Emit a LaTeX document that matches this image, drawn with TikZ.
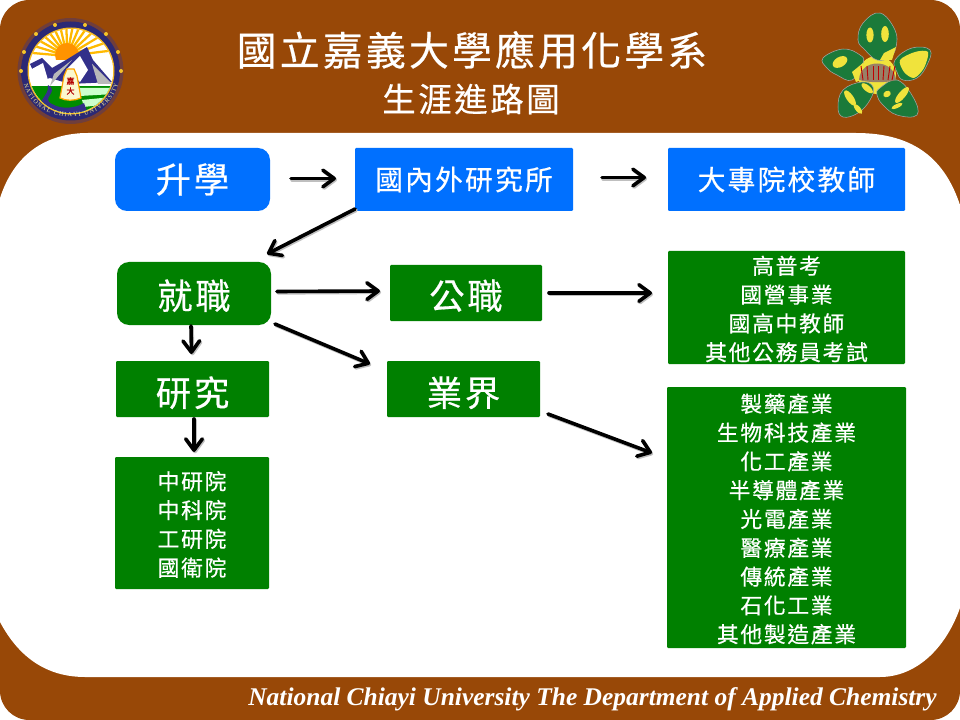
\documentclass[tikz,border=0pt]{standalone}
\usepackage{fontspec}
\setmainfont{Liberation Serif}
\newfontfamily\cjk[LetterSpace=8,FakeBold=0.5]{Noto Sans CJK TC}
\usetikzlibrary{arrows.meta,calc,decorations.text}
\definecolor{brownbg}{HTML}{984807}
\definecolor{blueb}{HTML}{0070FF}
\definecolor{greenb}{HTML}{008000}
\definecolor{petal}{HTML}{1B7A3A}
\definecolor{petaly}{HTML}{F0E33C}
\definecolor{navy}{HTML}{33308A}
\newcommand{\fsz}[2]{\fontsize{#1pt}{#2pt}\selectfont}
\newsavebox{\dnbox}
\newcommand{\dn}[2]{\sbox{\dnbox}{\begin{tabular}{@{}c@{}}#2\end{tabular}}\raisebox{-\dimexpr(\ht\dnbox-\dp\dnbox)/2+#1pt\relax}[0pt][0pt]{\usebox{\dnbox}}}
\tikzset{
  box/.style 2 args={minimum width=#1*0.75pt,minimum height=#2*0.75pt,inner sep=0pt,outer sep=0pt,text=white,align=center,font=\cjk},
  big/.style={font=\cjk\fsz{26.5}{30}},
  mid/.style={font=\cjk\fsz{20.8}{24}},
  small/.style={font=\cjk\fsz{16.3}{21.6}},
  bluebox/.style={fill=blueb},
  greenbox/.style={fill=greenb},
  rnd/.style={rounded corners=9pt},
  sq/.style={rounded corners=0.8pt},
  arrtip/.style={-{Straight Barb[length=8.5pt,width=12.5pt,round]}},
  arr/.style={draw=black,line width=2.7pt,line cap=round,arrtip,preaction={draw=black!25,line width=2.7pt,line cap=round,transform canvas={xshift=0.8pt,yshift=-1pt},arrtip}},
  pet/.style={fill=petal,draw=gray!70!white,line width=0.4pt},
  spot/.style={fill=petaly},
}
\begin{document}
\begin{tikzpicture}[x=0.75pt,y=-0.75pt]
\useasboundingbox (0,0) rectangle (960,720);
\fill[white] (0,0) rectangle (960,720);
% slide background
\fill[brownbg,rounded corners=22pt] (0,0) rectangle (960,720);
\fill[white] (0,198) .. controls (14,155) and (45,133) .. (88,133)
  -- (856,133) .. controls (915,133) and (945,160) .. (960,205)
  -- (960,608) .. controls (945,650) and (915,677) .. (880,677)
  -- (85,677) .. controls (40,677) and (15,650) .. (0,622) -- cycle;
% seal
\fill[brownbg!60!navy] (70.5,71) circle (53);
\fill[navy!85!black] (70.5,71) circle (49.5);
\fill[petaly!60!orange] (71,71) circle (43.5);
\begin{scope}
\clip (71,71) circle (42);
\fill[white] (20,20) rectangle (120,120);
\foreach \a in {185,197,...,355}{
  \draw[orange!55!yellow,line width=1.7pt] (67,56) -- ++(\a:50);
}
\fill[orange!85!yellow] (67,55) circle (12);
\fill[white] (20,60) rectangle (120,120);
\fill[navy] (30,64) -- (42,58) -- (52,68) -- (66,60) -- (87,47) -- (93,60) -- (112,82) -- (70,84) -- (50,78) -- (38,82) -- cycle;
\fill[white] (30,70) -- (43,63) -- (48,80) -- (36,88) -- cycle;
\fill[gray!55] (54,74) -- (72,60) -- (50,86) -- cycle;
\fill[gray!55] (92,64) -- (112,84) -- (98,84) -- cycle;
\fill[white] (66,70) -- (80,56) -- (88,70) -- (80,82) -- cycle;
\fill[green!55!black] (26,86) rectangle (116,116);
\fill[white!80!green] (80,88) -- (114,88) -- (114,94) -- (80,96) -- cycle;
\fill[white!80!green] (82,100) -- (112,97) -- (108,104) -- (84,107) -- cycle;
\fill[navy] (48,85) .. controls (60,92) and (40,98) .. (52,104) .. controls (62,110) and (76,108) .. (84,103) -- (88,114) -- (40,116) .. controls (34,102) and (50,96) .. (48,85) -- cycle;
\end{scope}
\draw[orange!70!yellow,line width=0.9pt,fill=petaly!25!white] (67,69) -- (74,69) -- (77,76) -- (81,98) .. controls (74,101) and (66,101) .. (60,98) -- (64,76) -- cycle;
\node[text=red!70!black,font=\cjk\fsz{6}{7.5},align=center,inner sep=0pt] (bell) at (70.5,86) {嘉\\大};
\path[decorate,decoration={text along path,text align=fit to path,text={|\fsz{4.6}{5}\color{petaly!55!white}|NATIONAL CHIAYI UNIVERSITY}}]
  (24,84) .. controls (34,128) and (108,128) .. (118,84);
\foreach \p in {(21,71),(121,71),(24,52),(118,52),(36,34),(106,34),(55,25),(85,25)}{\fill[petaly!70!orange] \p circle (2);}
% flower
\fill[petaly] (877,75) circle (19);
\draw[pet] plot[smooth cycle,tension=0.7] coordinates {(880,13) (895,30) (896,47) (890,57) (877,60) (865,50) (858,40) (863,23)};
\draw[pet] plot[smooth cycle,tension=0.7] coordinates {(823,58) (843,49) (860,55) (863,63) (852,80) (837,75) (827,68)};
\draw[pet] plot[smooth cycle,tension=0.7] coordinates {(895,60) (912,48) (930,50) (927,65) (917,78) (903,80) (897,72)};
\draw[pet] plot[smooth cycle,tension=0.7] coordinates {(862,82) (873,87) (870,100) (858,113) (843,117) (838,107) (843,90)};
\draw[pet] plot[smooth cycle,tension=0.7] coordinates {(880,88) (897,80) (913,97) (917,115) (897,115) (883,105) (877,95)};
\fill[spot] (870,35) ellipse (3.6 and 7.5);
\fill[spot] (885,34) ellipse (3.8 and 8);
\fill[spot] (884,53) -- (896,47) -- (892,60) -- (880,60) -- cycle;
\fill[spot,rotate around={30:(840,62)}] (840,62) ellipse (8 and 5);
\fill[spot] (852,72) -- (863,63) -- (866,78) -- (856,82) -- cycle;
\fill[spot] plot[smooth cycle] coordinates {(900,60) (915,52) (928,52) (924,68) (914,78) (904,72)};
\fill[spot,rotate around={-55:(850,98)}] (850,98) ellipse (9 and 3.5);
\fill[spot,rotate around={-50:(858,109)}] (858,109) ellipse (6 and 2.5);
\fill[spot,rotate around={-40:(870,88)}] (868,90) ellipse (7 and 3);
\fill[spot,rotate around={30:(887,94)}] (887,94) ellipse (4 and 3);
\fill[spot,rotate around={50:(902,95)}] (902,95) ellipse (10 and 3.5);
\fill[spot,rotate around={25:(897,106)}] (897,106) ellipse (6 and 2);
\fill[gray!60!brown] (859,80) .. controls (860,58) and (894,58) .. (896,80) .. controls (886,83) and (870,83) .. (859,80) -- cycle;
\foreach \x/\t in {863/-2,868/-1,873/0,878/0,883/1,888/2,892/3}{\draw[red!75!black,line width=0.7pt] (\x,80) -- (\x+\t,66);}
% titles
\node[text=white,font=\cjk\fsz{29.9}{32},inner sep=0pt] (title) at (472,50) {國立嘉義大學應用化學系};
\node[text=white,font=\cjk\fsz{25}{28},inner sep=0pt] (subtitle) at (471,99) {生涯進路圖};
\node[text=white,font=\rmfamily\bfseries\itshape\fsz{19.1}{20},inner sep=0pt] (foot) at (592.5,699) {National Chiayi University The Department of Applied Chemistry};
% boxes
\node[box={155}{63},bluebox,rnd,big] (study) at (192.5,179.5) {升學};
\node[box={218}{63},bluebox,sq,mid] (grad) at (464,179.5) {國內外研究所};
\node[box={237}{63},bluebox,sq,mid] (fac) at (786.5,179.5) {大專院校教師};
\node[box={154}{63},greenbox,rnd,big] (job) at (194,293.5) {\dn{5.1}{就職}};
\node[box={152}{56},greenbox,sq,big] (pub) at (466,293) {\dn{5.5}{公職}};
\node[box={153}{56},greenbox,sq,big] (ind) at (463.5,389) {\dn{6.2}{業界}};
\node[box={153}{56},greenbox,sq,big] (res) at (192.5,389) {\dn{6.2}{研究}};
\node[box={237}{113},greenbox,sq,small] (exam) at (786.5,307.5) {\dn{3}{高普考\\國營事業\\國高中教師\\其他公務員考試}};
\node[box={239}{261},greenbox,sq,small] (corp) at (786.5,517.5) {\dn{3}{製藥產業\\生物科技產業\\化工產業\\半導體產業\\光電產業\\醫療產業\\傳統產業\\石化工業\\其他製造產業}};
\node[box={154}{132},greenbox,sq,small] (inst) at (192,523) {\dn{3}{中研院\\中科院\\工研院\\國衛院}};
% connectors
\draw[arr] ([shift={(21,-1)}]study.east) -- ([shift={(-19,-1)}]grad.west);
\draw[arr] ([shift={(29,-2)}]grad.east) -- ([shift={(-22,-2)}]fac.west);
\draw[arr] ([shift={(0,-2)}]grad.south west) -- ([shift={(-4,-8)}]job.north east);
\draw[arr] ([shift={(6,-2)}]job.east) -- ([shift={(-10,-2)}]pub.west);
\draw[arr] ([shift={(4,-1)}]job.south east) -- ([shift={(-17,3)}]ind.north west);
\draw[arr] ([shift={(-3,1)}]job.south) -- ([shift={(-1,-7)}]res.north);
\draw[arr] ([shift={(1.5,2)}]res.south) -- ([shift={(2,-5)}]inst.north);
\draw[arr] ([shift={(7,0)}]pub.east) -- ([shift={(-16,-14.5)}]exam.west);
\draw[arr] ([shift={(8,-3)}]ind.south east) -- ([shift={(-15,66)}]corp.north west);
\end{tikzpicture}
\end{document}
